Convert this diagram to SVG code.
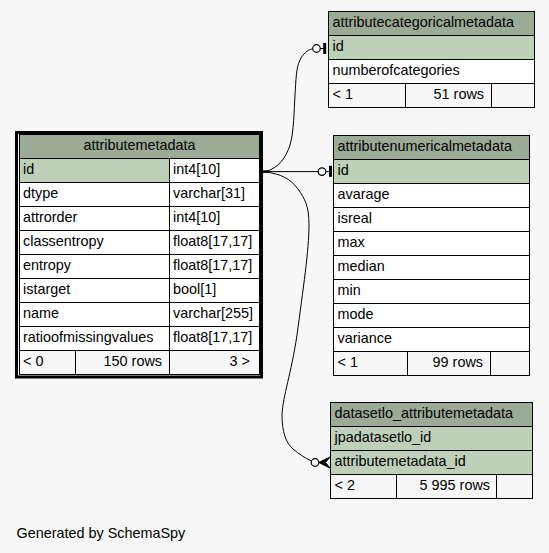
<svg xmlns="http://www.w3.org/2000/svg" width="549" height="553" viewBox="0 0 549 553">
<style>
text{font-family:"Liberation Sans",Arial,sans-serif;font-size:14.4px;fill:#000}
.h{fill:#9bab96;stroke:#000;stroke-width:1}
.k{fill:#bed1b8;stroke:#000;stroke-width:1}
.w{fill:#fff;stroke:#000;stroke-width:1}
.f{fill:#f7f7f7;stroke:#000;stroke-width:1}
.r{text-anchor:end}
.m{text-anchor:middle}
.e{fill:none;stroke:#000;stroke-width:1}
.o{fill:#f7f7f7;stroke:#000;stroke-width:1.2}
</style>
<rect width="549" height="553" fill="#f7f7f7"/>

<g id="attributemetadata">
<rect x="16.5" y="132.5" width="245" height="244.5" fill="none" stroke="#000" stroke-width="3"/>
<rect class="h" x="19.5" y="134.5" width="240" height="24"/>
<text class="m" x="139.5" y="149.5">attributemetadata</text>
<rect class="k" x="19.5" y="158.5" width="150" height="24"/><rect class="w" x="169.5" y="158.5" width="90" height="24"/>
<text x="23" y="173.5">id</text><text x="173" y="173.5">int4[10]</text>
<rect class="w" x="19.5" y="182.5" width="150" height="24"/><rect class="w" x="169.5" y="182.5" width="90" height="24"/>
<text x="23" y="197.5">dtype</text><text x="173" y="197.5">varchar[31]</text>
<rect class="w" x="19.5" y="206.5" width="150" height="24"/><rect class="w" x="169.5" y="206.5" width="90" height="24"/>
<text x="23" y="221.5">attrorder</text><text x="173" y="221.5">int4[10]</text>
<rect class="w" x="19.5" y="230.5" width="150" height="24"/><rect class="w" x="169.5" y="230.5" width="90" height="24"/>
<text x="23" y="245.5">classentropy</text><text x="173" y="245.5">float8[17,17]</text>
<rect class="w" x="19.5" y="254.5" width="150" height="24"/><rect class="w" x="169.5" y="254.5" width="90" height="24"/>
<text x="23" y="269.5">entropy</text><text x="173" y="269.5">float8[17,17]</text>
<rect class="w" x="19.5" y="278.5" width="150" height="24"/><rect class="w" x="169.5" y="278.5" width="90" height="24"/>
<text x="23" y="293.5">istarget</text><text x="173" y="293.5">bool[1]</text>
<rect class="w" x="19.5" y="302.5" width="150" height="24"/><rect class="w" x="169.5" y="302.5" width="90" height="24"/>
<text x="23" y="317.5">name</text><text x="173" y="317.5">varchar[255]</text>
<rect class="w" x="19.5" y="326.5" width="150" height="24"/><rect class="w" x="169.5" y="326.5" width="90" height="24"/>
<text x="23" y="341.5">ratioofmissingvalues</text><text x="173" y="341.5">float8[17,17]</text>
<rect class="f" x="19.5" y="350.5" width="56" height="24"/><rect class="f" x="75.5" y="350.5" width="94" height="24"/><rect class="f" x="169.5" y="350.5" width="90" height="24"/>
<text x="23" y="365.5">&lt; 0</text><text class="r" x="162" y="365.5">150 rows</text><text class="r" x="250" y="365.5">3 &gt;</text>
</g>

<g id="attributecategoricalmetadata">
<rect class="h" x="328.5" y="11.5" width="206" height="24"/>
<text x="332.5" y="26.5">attributecategoricalmetadata</text>
<rect class="k" x="328.5" y="35.5" width="206" height="24"/>
<text x="332.5" y="50.5">id</text>
<rect class="w" x="328.5" y="59.5" width="206" height="24"/>
<text x="332.5" y="74.5">numberofcategories</text>
<rect class="f" x="328.5" y="83.5" width="77" height="24"/><rect class="f" x="405.5" y="83.5" width="86" height="24"/><rect class="f" x="491.5" y="83.5" width="43" height="24"/>
<text x="332.5" y="98.5">&lt; 1</text><text class="r" x="484" y="98.5">51 rows</text>
</g>

<g id="attributenumericalmetadata">
<rect class="h" x="333.5" y="135.5" width="196" height="24"/>
<text x="337.5" y="150.5">attributenumericalmetadata</text>
<rect class="k" x="333.5" y="159.5" width="196" height="24"/>
<text x="337.5" y="174.5">id</text>
<rect class="w" x="333.5" y="183.5" width="196" height="24"/><text x="337.5" y="198.5">avarage</text>
<rect class="w" x="333.5" y="207.5" width="196" height="24"/><text x="337.5" y="222.5">isreal</text>
<rect class="w" x="333.5" y="231.5" width="196" height="24"/><text x="337.5" y="246.5">max</text>
<rect class="w" x="333.5" y="255.5" width="196" height="24"/><text x="337.5" y="270.5">median</text>
<rect class="w" x="333.5" y="279.5" width="196" height="24"/><text x="337.5" y="294.5">min</text>
<rect class="w" x="333.5" y="303.5" width="196" height="24"/><text x="337.5" y="318.5">mode</text>
<rect class="w" x="333.5" y="327.5" width="196" height="24"/><text x="337.5" y="342.5">variance</text>
<rect class="f" x="333.5" y="351.5" width="74" height="24"/><rect class="f" x="407.5" y="351.5" width="83" height="24"/><rect class="f" x="490.5" y="351.5" width="39" height="24"/>
<text x="337.5" y="366.5">&lt; 1</text><text class="r" x="483" y="366.5">99 rows</text>
</g>

<g id="datasetlo_attributemetadata">
<rect class="h" x="330.5" y="402.5" width="202" height="24"/>
<text x="334.5" y="417.5">datasetlo_attributemetadata</text>
<rect class="k" x="330.5" y="426.5" width="202" height="24"/>
<text x="334.5" y="441.5">jpadatasetlo_id</text>
<rect class="k" x="330.5" y="450.5" width="202" height="24"/>
<text x="334.5" y="465.5">attributemetadata_id</text>
<rect class="f" x="330.5" y="474.5" width="66" height="24"/><rect class="f" x="396.5" y="474.5" width="100" height="24"/><rect class="f" x="496.5" y="474.5" width="36" height="24"/>
<text x="334.5" y="489.5">&lt; 2</text><text class="r" x="490" y="489.5">5 995 rows</text>
</g>

<g id="connectors">
<rect x="263" y="170.3" width="5" height="2.6" fill="#000"/>
<path class="e" d="M266,171.5 C278,168 286,158 290,145 C294,132 294,110 295,95 C296,80 296,68 300,60 C303,54 307,50 312.5,48.8"/>
<circle class="o" cx="316.5" cy="48.5" r="3.8"/>
<line x1="320.3" y1="48.5" x2="324" y2="48.5" stroke="#000"/>
<rect x="323.2" y="43" width="3" height="11" fill="#000"/>
<path class="e" d="M266,171.6 L318,171.6"/>
<circle class="o" cx="322" cy="171.6" r="3.8"/>
<line x1="325.8" y1="171.6" x2="330" y2="171.6" stroke="#000"/>
<rect x="329" y="165.8" width="3" height="11" fill="#000"/>
<path class="e" d="M266,172 C280,174 290,178 298,189 C305,199 309,206 309,225 C309,250 303,290 297,335 C291,375 283,395 282,415 C282,432 286,443 293,449 C299,454 305,458 311.3,461"/>
<circle class="o" cx="315" cy="462.5" r="3.8"/>
<path d="M318.8,462.5 L330,457 L325.5,462.5 L330,468 Z" fill="#000" stroke="#000" stroke-width="1" stroke-linejoin="round"/>
</g>

<text x="16.5" y="538">Generated by SchemaSpy</text>
</svg>
